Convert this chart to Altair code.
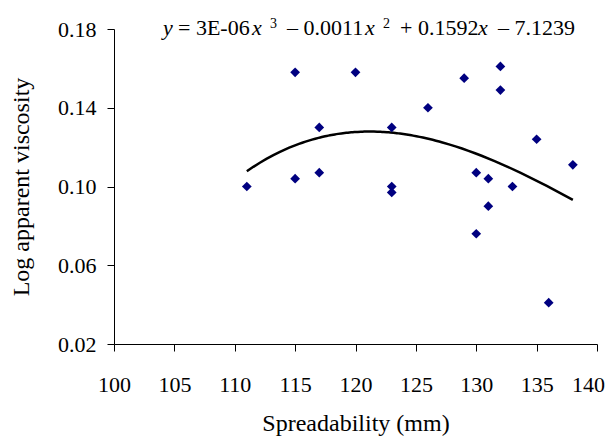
import altair as alt
import pandas as pd

spread = [111, 115, 115, 117, 117, 120, 123, 123, 123, 126, 129, 132, 132, 130, 130, 131, 131, 133, 135, 138, 136]
logvisc = [0.100, 0.158, 0.104, 0.130, 0.107, 0.158, 0.130, 0.100, 0.097, 0.140, 0.155, 0.161, 0.149, 0.107, 0.076, 0.104, 0.090, 0.100, 0.124, 0.111, 0.041]

# trendline equation pieces: text, italic, superscript, left x in plot px
eq_text = ["y", "= 3E-06", "x", "3", "– 0.0011", "x", "2", "+ 0.1592", "x", "– 7.1239"]
eq_italic = [True, False, True, False, False, True, False, False, True, False]
eq_super = [False, False, False, True, False, False, True, False, False, False]
eq_left = [49, 64, 138, 156, 173, 251, 269, 286, 364, 384]

df = pd.DataFrame({"s": spread, "v": logvisc})
FONT = "Liberation Serif"

xs = alt.X("s:Q", scale=alt.Scale(domain=[100, 140], nice=False),
           axis=alt.Axis(title="Spreadability (mm)", values=list(range(100, 141, 5)),
                         grid=False, domainColor="black", tickColor="black",
                         tickSize=7, labelPadding=23, titlePadding=16,
                         labelFont=FONT, titleFont=FONT, labelFontSize=22, titleFontSize=24,
                         titleFontWeight="normal", labelColor="black", titleColor="black",
                         labelFlush=False,
                         labelOffset={"condition": {"test": "datum.value == 140", "value": -9}, "value": 0}))
ys = alt.Y("v:Q", scale=alt.Scale(domain=[0.02, 0.18], nice=False, zero=False),
           axis=alt.Axis(title="Log apparent viscosity", values=[0.02, 0.06, 0.10, 0.14, 0.18],
                         format=".2f", grid=False, domainColor="black", tickColor="black",
                         tickSize=7, labelPadding=11, titlePadding=24,
                         labelFont=FONT, titleFont=FONT, labelFontSize=22, titleFontSize=24,
                         titleFontWeight="normal", labelColor="black", titleColor="black"))

base = alt.Chart(df)
pts = base.mark_point(shape="diamond", filled=True, color="#000080", size=95, opacity=1).encode(x=xs, y=ys)
trend = base.transform_regression("s", "v", method="poly", order=3, extent=[111, 138]).mark_line(
    color="black", strokeWidth=2.5).encode(x="s:Q", y="v:Q")

eq_layers = []
for t, it, sup, lx in zip(eq_text, eq_italic, eq_super, eq_left):
    eq_layers.append(
        alt.Chart(pd.DataFrame({"t": [t]})).mark_text(
            font=FONT, fontSize=14 if sup else 22, fontStyle="italic" if it else "normal",
            align="left", baseline="alphabetic", color="black"
        ).encode(text="t:N", x=alt.value(lx), y=alt.value(-1 if sup else 6))
    )

chart = alt.layer(trend, pts, *eq_layers).properties(
    width=483, height=315,
    autosize=alt.AutoSizeParams(type="none"),
    padding={"left": 106, "top": 21, "right": 8, "bottom": 92},
).configure_view(stroke=None)

chart.save("out.html", embed_options={"renderer": "svg", "actions": False})
